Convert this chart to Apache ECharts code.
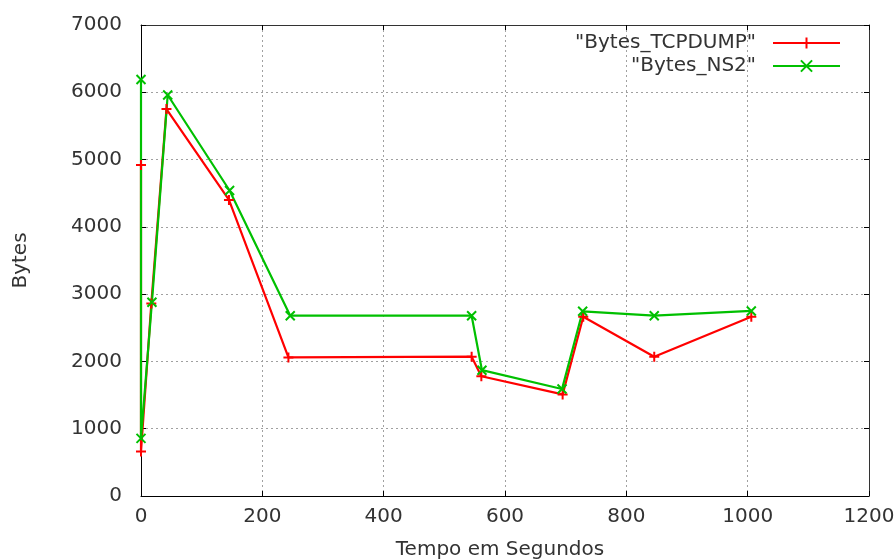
<!DOCTYPE html>
<html><head><meta charset="utf-8">
<script src="https://cdn.jsdelivr.net/npm/echarts@6/dist/echarts.min.js"></script>
<style>html,body{margin:0;padding:0;background:#fff}#c{width:895px;height:559px}</style>
</head><body><div id="c"></div>
<script>
// Data
const tcpdumpTime  = [0, 0, 17, 42, 145, 243, 545, 561, 695, 729, 846, 1006];
const tcpdumpBytes = [4920, 660, 2860, 5750, 4400, 2060, 2070, 1780, 1510, 2665, 2070, 2665];
const ns2Time  = [0, 0, 18, 44, 146, 246, 545, 562, 694, 728, 846, 1006];
const ns2Bytes = [6190, 857, 2880, 5960, 4540, 2680, 2680, 1870, 1590, 2745, 2680, 2750];
const xTicks = [0, 200, 400, 600, 800, 1000, 1200];
const yTicks = [0, 1000, 2000, 3000, 4000, 5000, 6000, 7000];
const seriesNames = ['"Bytes_TCPDUMP"', '"Bytes_NS2"'];

const FONT = 'DejaVu Sans';
const TXT = '#333';
const FS = 20;
const pair = (xs, ys) => xs.map((x, i) => [x, ys[i]]);
const plain = v => String(v);

const chart = echarts.init(document.getElementById('c'), null, {renderer: 'canvas'});
const baseX = {
  type: 'value', min: xTicks[0], max: xTicks[xTicks.length - 1], interval: xTicks[1] - xTicks[0]
};
const baseY = {
  type: 'value', min: yTicks[0], max: yTicks[yTicks.length - 1], interval: yTicks[1] - yTicks[0]
};
const tick = {show: true, inside: true, length: 5, lineStyle: {color: '#000', width: 1}};
const plus = 'path://M0,5L10,5M5,0L5,10';
const cross = 'path://M0,0L10,10M10,0L0,10';

chart.setOption({
  animation: false,
  backgroundColor: '#fff',
  textStyle: {fontFamily: FONT},
  grid: {left: 141, right: 26, top: 25, bottom: 63, containLabel: false, outerBoundsMode: 'none'},
  legend: {
    orient: 'vertical', align: 'right', right: 54, top: 33, padding: 0,
    itemWidth: 67, itemHeight: 14, itemGap: 3,
    data: seriesNames,
    textStyle: {fontFamily: FONT, fontSize: FS, color: TXT, lineHeight: 16, padding: [0, 12, 0, 0]},
    itemStyle: {borderWidth: 2}
  },
  xAxis: [
    Object.assign({}, baseX, {
      position: 'bottom',
      name: 'Tempo em Segundos', nameLocation: 'middle', nameGap: 44,
      nameTextStyle: {fontFamily: FONT, fontSize: FS, color: TXT, padding: [0, 10, 0, 0]},
      axisLine: {show: true, onZero: false, lineStyle: {color: '#000', width: 1}},
      axisTick: tick,
      axisLabel: {fontFamily: FONT, fontSize: FS, color: TXT, margin: 11, formatter: plain},
      splitLine: {show: true, lineStyle: {color: '#a0a0a0', type: [2, 3], width: 1}}
    }),
    Object.assign({}, baseX, {
      position: 'top',
      axisLine: {show: true, onZero: false, lineStyle: {color: '#333', width: 1}},
      axisTick: tick, axisLabel: {show: false}, splitLine: {show: false}
    })
  ],
  yAxis: [
    Object.assign({}, baseY, {
      position: 'left',
      name: 'Bytes', nameLocation: 'middle', nameGap: 110, nameRotate: 90,
      nameTextStyle: {fontFamily: FONT, fontSize: FS, color: TXT},
      axisLine: {show: true, onZero: false, lineStyle: {color: '#000', width: 1}},
      axisTick: tick,
      axisLabel: {fontFamily: FONT, fontSize: FS, color: TXT, margin: 19, formatter: plain},
      splitLine: {show: true, lineStyle: {color: '#a0a0a0', type: [2, 3], width: 1}}
    }),
    Object.assign({}, baseY, {
      position: 'right',
      axisLine: {show: true, onZero: false, lineStyle: {color: '#333', width: 1}},
      axisTick: tick, axisLabel: {show: false}, splitLine: {show: false}
    })
  ],
  series: [
    {
      name: seriesNames[0], type: 'line', xAxisIndex: 0, yAxisIndex: 0,
      data: pair(tcpdumpTime, tcpdumpBytes),
      symbol: plus, symbolSize: 10, showSymbol: true, clip: false,
      lineStyle: {color: '#ff0000', width: 2.2},
      itemStyle: {color: '#ff0000', borderColor: '#ff0000', borderWidth: 2}
    },
    {
      name: seriesNames[1], type: 'line', xAxisIndex: 0, yAxisIndex: 0,
      data: pair(ns2Time, ns2Bytes),
      symbol: cross, symbolSize: 9, showSymbol: true, clip: false,
      lineStyle: {color: '#00c000', width: 2.2},
      itemStyle: {color: '#00c000', borderColor: '#00c000', borderWidth: 2}
    }
  ]
});
</script>
</body></html>
